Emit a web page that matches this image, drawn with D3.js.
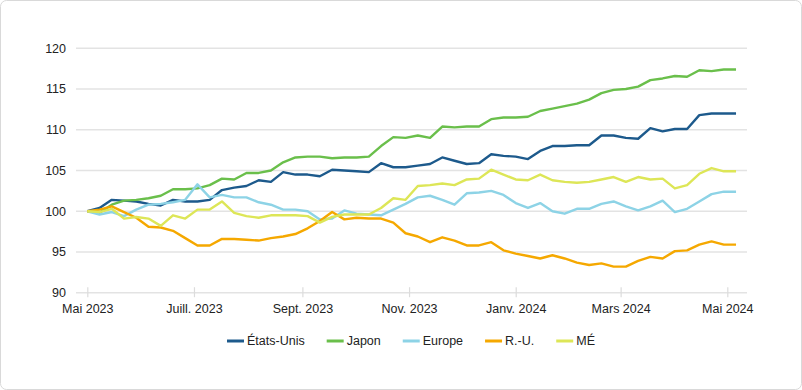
<!DOCTYPE html>
<html><head><meta charset="utf-8">
<script src="https://cdn.jsdelivr.net/npm/d3@7"></script>
<style>
html,body{margin:0;padding:0;background:#fff;}
svg{display:block;font-family:"Liberation Sans",Arial,sans-serif;}
</style></head>
<body><svg id="c" width="802" height="390"></svg>
<script>
const startDate = "2023-05-01";
const nWeeks = 54;
const tickDates = ["2023-05-01","2023-07-01","2023-09-01","2023-11-01","2024-01-01","2024-03-01","2024-05-01"];
const tickLabels = ["Mai 2023","Juill. 2023","Sept. 2023","Nov. 2023","Janv. 2024","Mars 2024","Mai 2024"];
const yTicks = [90,95,100,105,110,115,120];
const seriesNames = ["États-Unis","Japon","Europe","R.-U.","MÉ"];
const colors = ["#1d5a8c","#6abf4b","#8dd3e6","#f5a800","#dde657"];

const usa = [100,100.4,101.4,101.3,101.2,100.9,100.7,101.4,101.2,101.2,101.4,102.6,102.9,103.1,103.8,103.6,104.8,104.5,104.5,104.3,105.1,105.0,104.9,104.8,105.9,105.4,105.4,105.6,105.8,106.6,106.2,105.8,105.9,107.0,106.8,106.7,106.4,107.4,108.0,108.0,108.1,108.1,109.3,109.3,109.0,108.9,110.2,109.8,110.1,110.1,111.8,112.0,112.0,112.0];
const japon = [100,99.8,100.8,101.3,101.4,101.6,101.9,102.7,102.7,102.8,103.2,104.0,103.9,104.7,104.7,105.0,106.0,106.6,106.7,106.7,106.5,106.6,106.6,106.7,108.0,109.1,109.0,109.3,109.0,110.4,110.3,110.4,110.4,111.3,111.5,111.5,111.6,112.3,112.6,112.9,113.2,113.7,114.5,114.9,115.0,115.3,116.1,116.3,116.6,116.5,117.3,117.2,117.4,117.4];
const europe = [100,99.6,99.9,99.4,100.2,100.8,100.9,101.1,101.4,103.3,101.7,102.0,101.7,101.7,101.1,100.8,100.2,100.2,100.0,99.0,99.1,100.1,99.7,99.6,99.5,100.2,100.9,101.7,101.9,101.4,100.8,102.2,102.3,102.5,102.0,101.0,100.4,101.0,100.0,99.7,100.3,100.3,100.9,101.2,100.6,100.1,100.6,101.3,99.9,100.3,101.2,102.1,102.4,102.4];
const ru = [100,100.2,100.6,99.9,99.2,98.1,98.0,97.6,96.7,95.8,95.8,96.6,96.6,96.5,96.4,96.7,96.9,97.2,97.9,98.8,99.9,99.0,99.2,99.1,99.1,98.6,97.3,96.9,96.2,96.8,96.4,95.8,95.8,96.2,95.2,94.8,94.5,94.2,94.6,94.2,93.7,93.4,93.6,93.2,93.2,93.9,94.4,94.2,95.1,95.2,95.9,96.3,95.9,95.9];
const me = [100,99.9,100.3,99.1,99.3,99.1,98.2,99.5,99.1,100.2,100.2,101.2,99.8,99.4,99.2,99.5,99.5,99.5,99.4,98.6,99.3,99.6,99.6,99.6,100.4,101.6,101.4,103.1,103.2,103.4,103.2,103.9,104.0,105.1,104.5,103.9,103.8,104.5,103.8,103.6,103.5,103.6,103.9,104.2,103.6,104.2,103.9,104.0,102.8,103.2,104.6,105.3,104.9,104.9];

const allSeries = [usa, japon, europe, ru, me];
const parse = d3.utcParse("%Y-%m-%d");
const d0 = parse(startDate);
const dates = d3.range(nWeeks).map(i => d3.utcDay.offset(d0, 7*i));

const svg = d3.select("#c");
svg.append("rect").attr("x",0.5).attr("y",0.5).attr("width",801).attr("height",389)
  .attr("rx",6).attr("fill","#fff").attr("stroke","#d9d9d9");

const x = d3.scaleUtc().domain([parse(tickDates[0]), parse(tickDates[6])]).range([87.3, 727.3]);
const y = d3.scaleLinear().domain([90,120]).range([292.7, 48.3]);
const gridL = 76, gridR = 747;

// grid
svg.append("g").selectAll("line").data(yTicks).join("line")
  .attr("x1",gridL).attr("x2",gridR).attr("y1",d=>y(d)).attr("y2",d=>y(d))
  .attr("stroke","#e3e3e3").attr("stroke-width",1.5);

// y labels
svg.append("g").selectAll("text").data(yTicks).join("text")
  .attr("x",66).attr("y",d=>y(d)).attr("dy","0.35em").attr("text-anchor","end")
  .attr("font-size",12.5).attr("fill","#222").text(d=>d);

// x axis
const xAxis = d3.axisBottom(x)
  .tickValues(tickDates.map(parse))
  .tickFormat((d,i)=>tickLabels[i]).tickSize(10).tickSizeOuter(0);
const gx = svg.append("g").attr("transform",`translate(0,${y(90)-5.5})`).call(xAxis);
gx.select(".domain").remove();
gx.selectAll(".tick line").attr("stroke","#dcdcdc").attr("stroke-width",1.2);
gx.selectAll(".tick text").attr("font-size",12.5).attr("fill","#222").attr("y",17).attr("dy","0.71em")
  .attr("font-family","\"Liberation Sans\",Arial,sans-serif");

// lines
const line = d3.line().x((d,i)=>x(dates[i])).y(d=>y(d));
svg.append("g").selectAll("path").data(allSeries).join("path")
  .attr("d",line).attr("fill","none").attr("stroke",(d,i)=>colors[i])
  .attr("stroke-width",2.4).attr("stroke-linejoin","round");

// legend
const lg = svg.append("g");
const items = lg.selectAll("g").data(seriesNames).join("g");
items.append("line").attr("x1",0).attr("x2",17).attr("y1",0).attr("y2",0)
  .attr("stroke",(d,i)=>colors[i]).attr("stroke-width",3);
items.append("text").attr("x",20).attr("dy","0.35em").attr("font-size",12.5).attr("fill","#222").text(d=>d);
let cx = 0;
items.each(function(){
  const w = 20 + this.querySelector("text").getComputedTextLength();
  d3.select(this).attr("transform",`translate(${cx},0)`);
  cx += w + 22;
});
const total = cx - 22;
lg.attr("transform",`translate(${411 - total/2},341)`);
</script></body></html>
